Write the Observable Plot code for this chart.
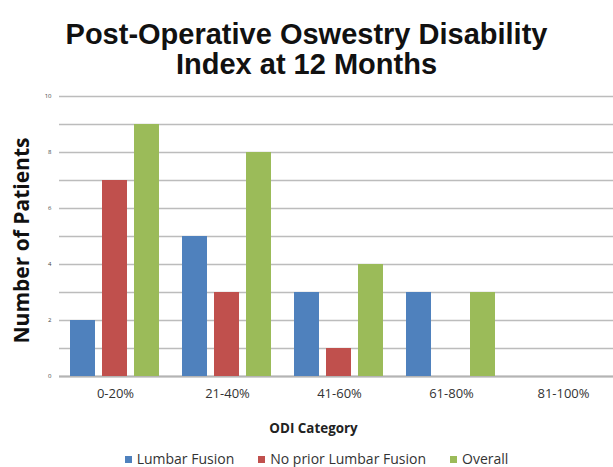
<!DOCTYPE html>
<html>
<head>
<meta charset="utf-8">
<script src="https://cdn.jsdelivr.net/npm/d3@7"></script>
<script src="https://cdn.jsdelivr.net/npm/@observablehq/plot@0.6"></script>
<style>
  html, body { margin: 0; padding: 0; background: #fff; }
  #page { width: 613px; height: 467px; overflow: hidden; position: relative; }
  #title { box-sizing: border-box; height: 80px; padding-top: 19px; text-align: center;
           font: bold 29px "Liberation Sans", Arial, sans-serif; line-height: 30px; color: #111; white-space: nowrap; }
  #chart svg { display: block; max-width: none !important; }
  #legend { display: flex; justify-content: center; align-items: center; gap: 24px; height: 16px;
            font: 14px "Open Sans", sans-serif; line-height: 16px; color: #333; margin-top: 11px; padding-left: 20px; white-space: nowrap; }
  .item { display: flex; align-items: center; gap: 5px; }
  .sw { width: 7px; height: 7px; display: inline-block; }
</style>
</head>
<body>
<div id="page">
  <div id="title">Post-Operative Oswestry Disability<br>Index at 12 Months</div>
  <div id="chart"></div>
  <div id="legend"></div>
</div>
<script>
const categories = ["0-20%", "21-40%", "41-60%", "61-80%", "81-100%"];
const seriesNames = ["Lumbar Fusion", "No prior Lumbar Fusion", "Overall"];
const lumbarFusion = [2, 5, 3, 3, 0];
const noPriorLumbarFusion = [7, 3, 1, 0, 0];
const overall = [9, 8, 4, 3, 0];
const seriesColors = ["#4f81bd", "#c0504d", "#9bbb59"];
const yTicks = [0, 2, 4, 6, 8, 10];
const gridValues = [0, 1, 2, 3, 4, 5, 6, 7, 8, 9, 10];
const xTitle = "ODI Category";
const yTitle = "Number of Patients";

const seriesValues = [lumbarFusion, noPriorLumbarFusion, overall];
const rows = [];
categories.forEach((c, i) => {
  seriesNames.forEach((s, j) => {
    rows.push({category: c, series: s, value: seriesValues[j][i]});
  });
});
// one grid line per value in every category panel
const gridRows = [];
categories.forEach(c => gridValues.forEach(v => gridRows.push({category: c, value: v})));

const chart = Plot.plot({
  width: 620,
  height: 360,
  marginTop: 16,
  marginBottom: 64,
  marginLeft: 57,
  marginRight: 0,
  style: {fontFamily: "'Open Sans', sans-serif", background: "white", overflow: "hidden", maxWidth: "none"},
  fx: {domain: categories, padding: 0, label: null},
  x: {domain: seriesNames, paddingInner: 0.207, paddingOuter: 0.32, axis: null},
  y: {domain: [0, 10], axis: null},
  color: {domain: seriesNames, range: seriesColors},
  marks: [
    Plot.ruleY(gridRows, {fx: "category", y: "value", stroke: "#bcbcbc", strokeWidth: 1.5}),
    Plot.ruleY([0], {stroke: "#b4b4b4", strokeWidth: 2}),
    Plot.barY(rows, {fx: "category", x: "series", y: "value", fill: "series"}),
    Plot.axisY({ticks: yTicks, tickSize: 0, tickPadding: 8, fontSize: 6, fill: "#444", label: null}),
    Plot.axisFx({anchor: "bottom", tickSize: 0, tickPadding: 12, fontSize: 13, fill: "#333", label: null}),
    Plot.text([xTitle], {fx: () => categories[2], frameAnchor: "bottom", dx: -26, dy: 52, lineAnchor: "middle",
      fontSize: 13.4, fontWeight: "bold", fill: "#222"}),
    Plot.text([yTitle], {fx: () => categories[0], frameAnchor: "left", textAnchor: "middle", dx: -37, dy: 4, rotate: -90,
      fontSize: 21, fontWeight: "bold", fill: "#111"})
  ]
});
document.getElementById("chart").appendChild(chart);

const legend = document.getElementById("legend");
seriesNames.forEach((s, i) => {
  const it = document.createElement("span");
  it.className = "item";
  const sw = document.createElement("span");
  sw.className = "sw";
  sw.style.background = seriesColors[i];
  it.appendChild(sw);
  it.appendChild(document.createTextNode(s));
  legend.appendChild(it);
});
</script>
</body>
</html>
